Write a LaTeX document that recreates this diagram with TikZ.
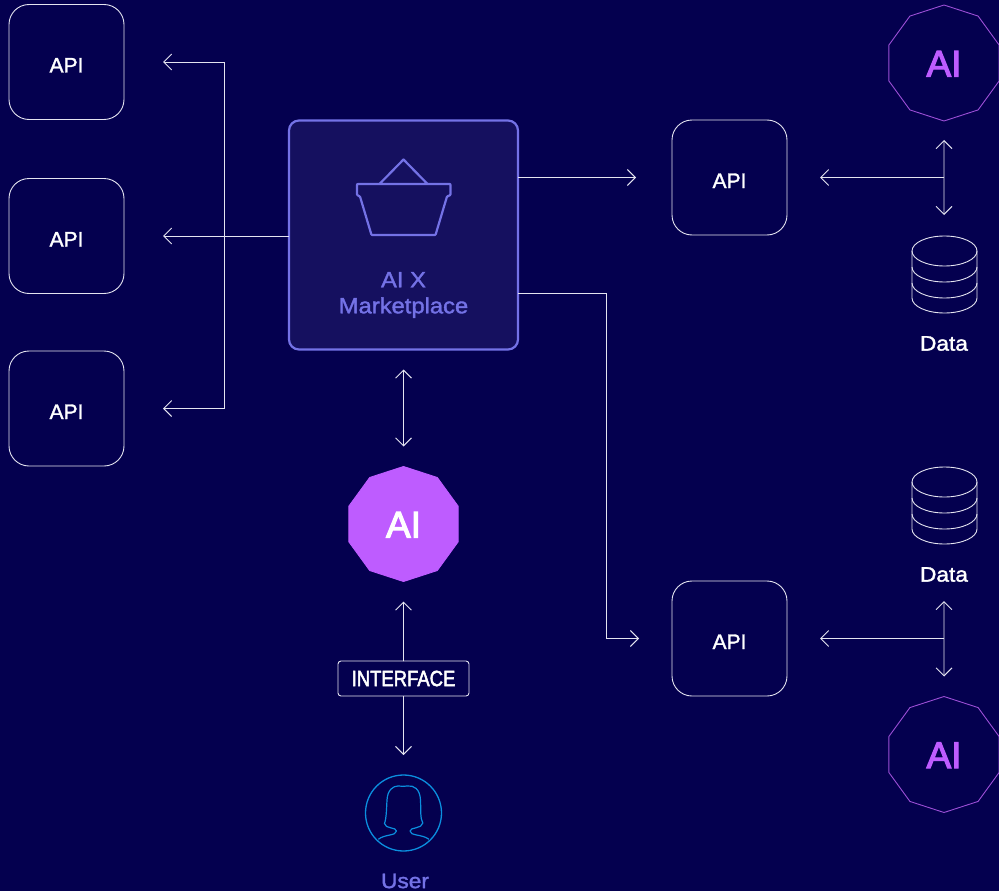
\documentclass[tikz,border=0pt]{standalone}
\usepackage{fontspec}
\setmainfont[FakeBold=1.6]{Liberation Sans}
\newfontfamily\widefont[FakeStretch=1.08,FakeBold=1.6]{Liberation Sans}
\newfontfamily\tagfont[FakeStretch=0.84,FakeBold=2.2]{Liberation Sans}
\newfontfamily\aifont[FakeBold=3]{Liberation Sans}
\usetikzlibrary{shapes.geometric,arrows.meta}
\definecolor{navybg}{HTML}{04004F}
\definecolor{mktfill}{HTML}{15105F}
\definecolor{mktline}{HTML}{7472E6}
\definecolor{aipurple}{HTML}{BE5CFF}
\definecolor{aiedge}{HTML}{9C4FD6}
\definecolor{userblue}{HTML}{0B8FDF}
\definecolor{linegray}{HTML}{E4E4F0}
\tikzset{
  link/.style={draw=linegray,line width=0.9pt,-{Straight Barb[length=8pt,width=16pt]}},
  both/.style={link,{Straight Barb[length=8pt,width=16pt]}-{Straight Barb[length=8pt,width=16pt]}},
  api/.style={draw=linegray,line width=0.9pt,rounded corners=20pt,minimum size=115pt,inner sep=0pt,outer sep=0pt,text=white,text height=21pt,text depth=0pt,font=\fontsize{21}{24}\selectfont},
  aioutline/.style={regular polygon,regular polygon sides=10,shape border rotate=18,minimum size=116pt,inner sep=0pt,outer sep=0pt,draw=aiedge,line width=0.9pt,text=aipurple,text height=27pt,text depth=0pt,font=\aifont\fontsize{37}{40}\selectfont},
  aisolid/.style={aioutline,minimum size=115pt,draw=aipurple,fill=aipurple,text=white},
  dbbox/.style={minimum width=65pt,minimum height=77pt,inner sep=0pt,outer sep=0pt},
  caption/.style={inner sep=0pt,text=white,font=\widefont\fontsize{21}{24}\selectfont},
  basket/.style={draw=mktline,line width=2.2pt,line join=round},
  dbline/.style={draw=linegray,line width=0.9pt}
}
\newcommand{\dbstack}[1]{
\draw[dbline] ([yshift=-15pt]#1.north) ellipse [x radius=32.5pt,y radius=15pt];
\draw[dbline] ([shift={(-32.5pt,-15pt)}]#1.north) -- ([shift={(-32.5pt,-62pt)}]#1.north)
  arc [start angle=180,end angle=360,x radius=32.5pt,y radius=15pt] -- ([shift={(32.5pt,-15pt)}]#1.north);
\foreach \dy in {-31,-47}
  \draw[dbline] ([shift={(-32.5pt,\dy pt)}]#1.north) arc [start angle=180,end angle=360,x radius=32.5pt,y radius=15pt];
}
\begin{document}
\begin{tikzpicture}[x=1pt,y=-1pt]
\useasboundingbox[fill=navybg] (0,0) rectangle (999,891);

\node[api] (apiA) at (66.5,62) {API};
\node[api] (apiB) at (66.5,236) {API};
\node[api] (apiC) at (66.5,408.5) {API};
\node[api] (apiNorth) at (729.5,177.5) {API};
\node[api] (apiSouth) at (729.5,638.5) {API};
\node[draw=mktline,fill=mktfill,line width=2.2pt,rounded corners=10pt,minimum size=229pt,inner sep=0pt,outer sep=0pt] (mkt) at (403.5,235) {};
\node[inner sep=0pt,align=center,text=mktline,font=\widefont\fontsize{22}{26}\selectfont] (mktLabel) at (403.5,295) {AI X\\Marketplace};
\node[aisolid] (aiCore) at (403.5,524) {AI};
\node[aioutline] (aiNorth) at (944,63) {AI};
\node[aioutline] (aiSouth) at (944,754.5) {AI};
\node[dbbox] (dbNorth) at (944.5,274.5) {};
\node[dbbox] (dbSouth) at (944.5,505.5) {};
\node[caption] (dataNorth) at (944,343.5) {Data};
\node[caption] (dataSouth) at (944,574.5) {Data};
\node[draw=linegray,line width=0.9pt,rounded corners=3pt,minimum width=131pt,minimum height=35pt,inner sep=0pt,outer sep=0pt,text=white,font=\tagfont\fontsize{22}{24}\selectfont] (iface) at (403.5,678.5) {INTERFACE};
\node[draw=userblue,line width=1.3pt,circle,minimum size=76pt,inner sep=0pt,outer sep=0pt] (user) at (403.5,813) {};
\node[inner sep=0pt,text=mktline,font=\widefont\fontsize{21}{24}\selectfont] (userLabel) at (405,881) {User};

\coordinate (trunk) at (224.5,236);
\coordinate (mktTapA) at (518,177.5);
\coordinate (mktTapB) at (518,293);
\coordinate (bend) at (606.5,293);
\coordinate (hubNorth) at (944,177.5);
\coordinate (hubSouth) at (944,638.5);

% left side
\draw[link,shorten >=39pt] (mkt.west |- apiB) -- (apiB.east);
\draw[link,shorten >=39pt] (trunk) |- (apiA.east);
\draw[link,shorten >=39pt] (trunk) |- (apiC.east);

% marketplace out
\draw[link,shorten >=36pt] (mktTapA) -- (apiNorth.west);
\draw[link,shorten >=33pt] (mktTapB) -- (bend) |- (apiSouth.west);
\draw[both,shorten <=20pt,shorten >=20pt] (mkt.south) -- (aiCore.north);

% right side
\draw[link,shorten >=33pt] (hubNorth) -- (apiNorth.east);
\draw[link,shorten >=33pt] (hubSouth) -- (apiSouth.east);
\draw[both,shorten <=19pt,shorten >=21pt] (aiNorth.south) -- (aiNorth |- dbNorth.north);
\draw[both,shorten <=19pt,shorten >=20pt] (dataSouth.south -| aiSouth) -- (aiSouth.north);

% interface
\draw[link,shorten >=20pt] (iface.north) -- (aiCore.south);
\draw[link,shorten >=20pt] (iface.south) -- (user.north);

\dbstack{dbNorth}
\dbstack{dbSouth}

% basket
\draw[basket,rounded corners=0.8pt] (357,184) -- (450.5,184) -- (450.5,195) -- (447,196.5) -- (435.5,235) -- (371.5,235) -- (360,196.5) -- (357,195) -- cycle;
\draw[basket] (379.5,184) -- (403.5,159.5) -- (427.5,184);

% head
\draw[draw=userblue,line width=1.2pt,line join=round] (378.3,839.3) .. controls (385,834) and (396,836) .. (396.5,831)
  .. controls (396.5,827) and (385,829) .. (384.5,823.5) .. controls (386.5,818) and (386.5,808) .. (387,800)
  .. controls (387.5,790) and (393,786) .. (398,786) .. controls (402,786) and (404,787) .. (407,786)
  .. controls (414,785) and (420,789) .. (420.5,800) .. controls (421,810) and (420,818) .. (422.8,823)
  .. controls (422,829) and (410,827) .. (410,831) .. controls (410,836) and (422,834) .. (429,839.3);
\end{tikzpicture}
\end{document}
